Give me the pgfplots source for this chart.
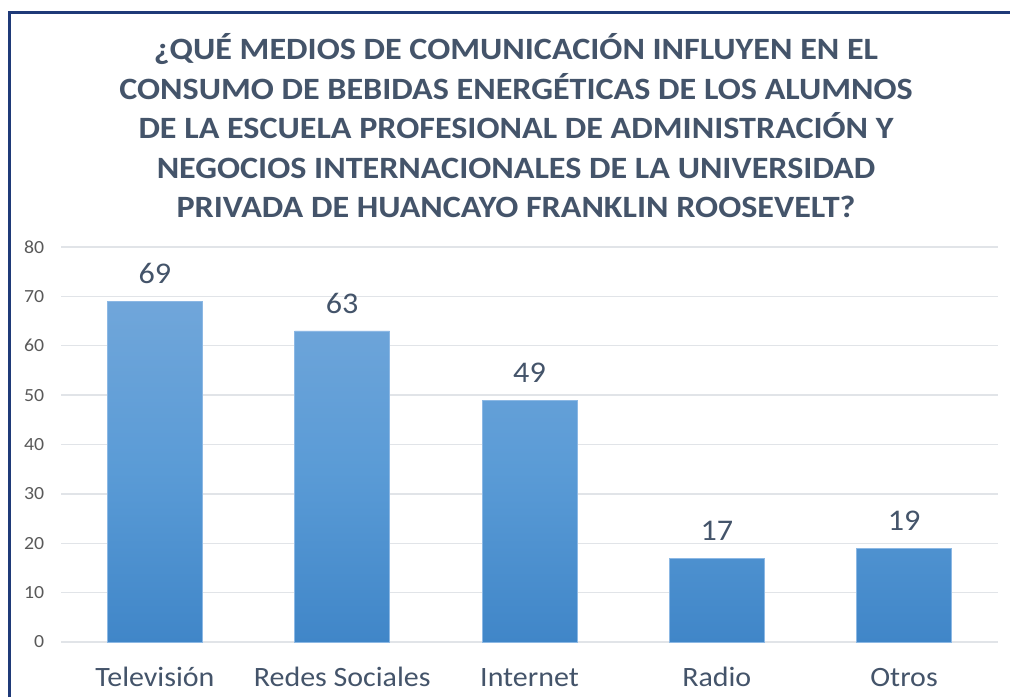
\documentclass[border=0pt]{standalone}
\usepackage{fontspec}
\setmainfont{Carlito}
\newfontfamily\widefont{Carlito}[FakeStretch=1.1]
\newfontfamily\catfont{Carlito}[FakeStretch=1.07]
\usepackage{pgfplots}
\pgfplotsset{compat=1.18}
\definecolor{titlec}{HTML}{44546A}
\definecolor{tickc}{HTML}{595959}
\definecolor{gridc}{HTML}{E1E4E8}
\definecolor{framec}{HTML}{1F3A78}
\definecolor{barTop}{RGB}{112,166,218}
\definecolor{barMid}{RGB}{90,155,214}
\definecolor{barBot}{RGB}{64,134,200}
\definecolor{barEdge}{RGB}{140,184,228}

\begin{document}
\begin{tikzpicture}[x=1pt,y=1pt]
\useasboundingbox (0,0) rectangle (1010,697);
\fill[white] (0,0) rectangle (1010,697);
\draw[framec, line width=3pt] (9.5,0) -- (9.5,684.5) -- (1010,684.5);
\node[align=center, inner sep=0, text=titlec,
      font=\widefont\fontsize{31}{39.5}\selectfont\bfseries] at (516,571)
  {¿QUÉ MEDIOS DE COMUNICACIÓN INFLUYEN EN EL\\
   CONSUMO DE BEBIDAS ENERGÉTICAS DE LOS ALUMNOS\\
   DE LA ESCUELA PROFESIONAL DE ADMINISTRACIÓN Y\\
   NEGOCIOS INTERNACIONALES DE LA UNIVERSIDAD\\
   PRIVADA DE HUANCAYO FRANKLIN ROOSEVELT?};
\begin{axis}[
  at={(61.3pt,55pt)}, anchor=south west,
  scale only axis, width=936.4pt, height=395pt,
  xmin=-0.5, xmax=4.5, ymin=0, ymax=80,
  ytick={0,10,...,80},
  xtick=data,
  xticklabels={Televisión,Redes Sociales,Internet,Radio,Otros},
  axis line style={draw=none},
  major tick length=0pt,
  ymajorgrids, grid style={gridc, line width=1.3pt},
  /pgf/number format/assume math mode=true,
  yticklabel style={font=\catfont\fontsize{18.5}{18.5}\selectfont, text=tickc,
    anchor=east, inner sep=0pt, xshift=-17pt},
  xticklabel style={font=\catfont\fontsize{28}{28}\selectfont, text=titlec,
    anchor=base, inner sep=0pt, yshift=-44pt},
  ybar, bar width=95pt,
  nodes near coords,
  nodes near coords style={font=\catfont\fontsize{30}{30}\selectfont, text=titlec,
    anchor=south, inner sep=0pt, yshift=17pt},
  clip=false,
]
\addplot[draw=barEdge, line width=0.6pt, top color=barTop, bottom color=barBot, middle color=barMid]
  coordinates {(0,69) (1,63) (2,49) (3,17) (4,19)};
\end{axis}
\end{tikzpicture}
\end{document}
